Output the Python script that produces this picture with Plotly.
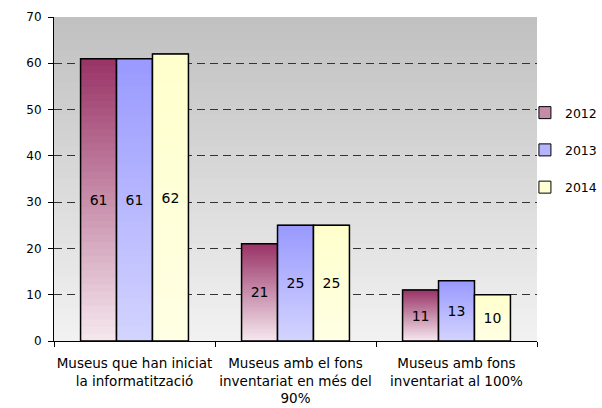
import plotly.graph_objects as go

categories = [
    "Museus que han iniciat<br>la informatització",
    "Museus amb el fons<br>inventariat en més del<br>90%",
    "Museus amb fons<br>inventariat al 100%",
]
series_names = ["2012", "2013", "2014"]
values_2012 = [61, 21, 11]
values_2013 = [61, 25, 13]
values_2014 = [62, 25, 10]
y_ticks = [0, 10, 20, 30, 40, 50, 60, 70]

series_values = [values_2012, values_2013, values_2014]
# (top colour, bottom colour, legend colour)
series_colors = [
    ((153, 51, 102), (246, 232, 239), (196, 140, 168)),
    ((153, 153, 255), (212, 212, 255), (180, 180, 255)),
    ((255, 255, 204), (255, 255, 228), (255, 255, 210)),
]

FONT = "DejaVu Sans"
N = 40


def mix(c1, c2, t):
    return "rgb(%d,%d,%d)" % tuple(round(a + (b - a) * t) for a, b in zip(c1, c2))


fig = go.Figure()

for name, vals, (top, bot, leg) in zip(series_names, series_values, series_colors):
    xs, ys, bases, cols, lws = [], [], [], [], []
    # first point: full bar, used for the legend swatch
    for cat, v in zip(categories, vals):
        xs.append(cat); ys.append(v); bases.append(0); cols.append(mix(leg, leg, 0)); lws.append(1)
    # gradient: tallest first, each from the baseline
    for k in range(N):
        frac = (N - k) / N
        t = (N - k - 0.5) / N
        for cat, v in zip(categories, vals):
            xs.append(cat); ys.append(v * frac); bases.append(0)
            cols.append(mix(bot, top, t)); lws.append(0)
    fig.add_trace(go.Bar(
        x=xs, y=ys, base=bases, name=name, offsetgroup=name, legendgroup=name,
        marker=dict(color=cols, line=dict(color="black", width=lws)),
        hoverinfo="skip", showlegend=True,
    ))
    fig.add_trace(go.Bar(
        x=categories, y=vals, name=name, offsetgroup=name, legendgroup=name,
        marker=dict(color="rgba(0,0,0,0)", line=dict(color="black", width=1.5)),
        text=[str(v) for v in vals], textposition="inside", insidetextanchor="middle",
        textfont=dict(family=FONT, size=14, color="black"), constraintext="none",
        showlegend=False,
    ))

# plot-area gradient background
NB = 40
bg_top, bg_bot = (192, 192, 192), (242, 242, 242)
shapes = []
for k in range(NB):
    frac = (NB - k) / NB
    t = (NB - k - 0.5) / NB
    shapes.append(dict(type="rect", xref="x domain", yref="y domain", x0=0, x1=1, y0=0, y1=frac,
                       fillcolor=mix(bg_bot, bg_top, t), line=dict(width=0), layer="below"))

fig.update_layout(
    width=602, height=408,
    margin=dict(l=54, r=65, t=17, b=67, autoexpand=False),
    paper_bgcolor="white", plot_bgcolor="white",
    barmode="group", bargap=0.33, bargroupgap=0,
    shapes=shapes,
    font=dict(family=FONT, size=13, color="black"),
    legend=dict(x=0.975, xanchor="left", y=0.75, yanchor="top", tracegroupgap=18,
                font=dict(family=FONT, size=12.5, color="black"), bgcolor="rgba(0,0,0,0)"),
    xaxis=dict(showline=True, linecolor="black", linewidth=1, ticks="outside", ticklen=5,
               tickcolor="black", tickson="boundaries", showgrid=False, tickangle=0,
               tickfont=dict(family=FONT, size=13.5, color="black"), ticklabelstandoff=10),
    yaxis=dict(range=[0, 70], tickvals=y_ticks, showline=True, linecolor="black", linewidth=1,
               ticks="outside", ticklen=5, tickcolor="black", showgrid=True, gridcolor="#333333",
               griddash="8px,5px", gridwidth=1, zeroline=False, ticklabelstandoff=4,
               tickfont=dict(family=FONT, size=12, color="black")),
)

fig.write_html(
    "out.html",
    config={"displayModeBar": False},
    post_script="document.body.style.margin='0';document.body.style.overflow='hidden';",
)
